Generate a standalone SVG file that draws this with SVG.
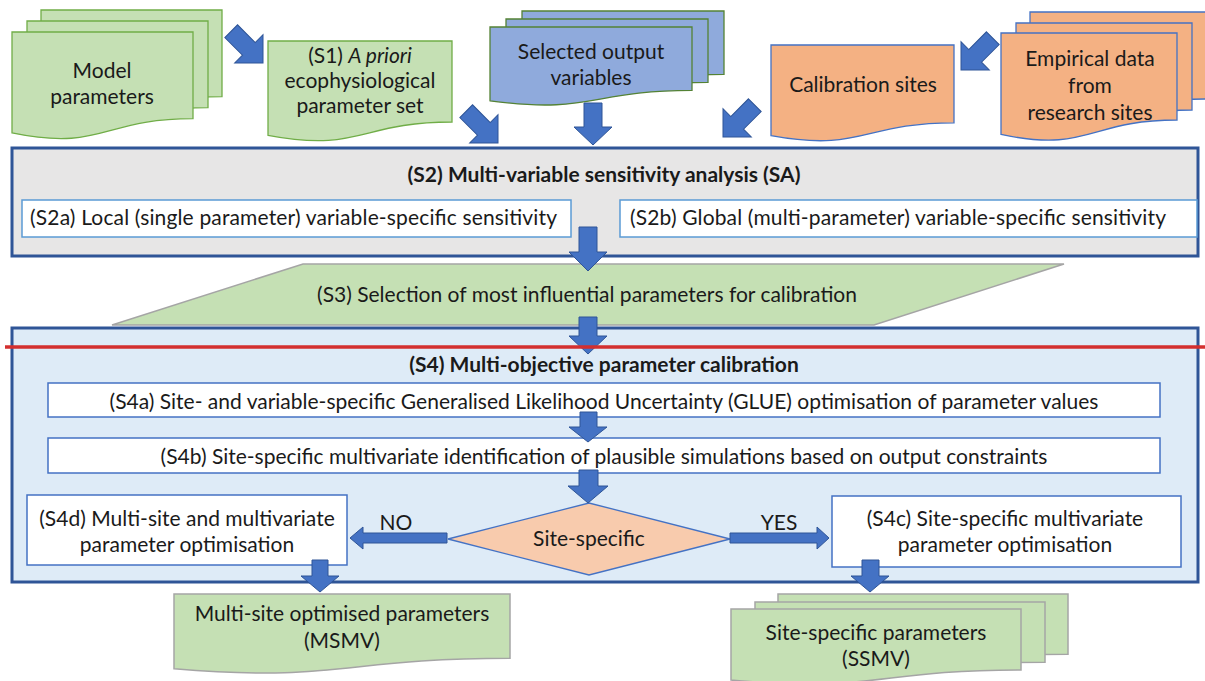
<svg xmlns="http://www.w3.org/2000/svg" width="1205" height="681" viewBox="0 0 1205 681">
<defs>
<style>
.t{font-family:Lato,"Liberation Sans",sans-serif;font-size:21px;fill:#1a1a1a}
.c{text-anchor:middle}
.b{font-weight:bold}
.arr{fill:#4472C4;stroke:#2F5597;stroke-width:1}
.grn{fill:#C5E0B4;stroke:#70AD47;stroke-width:1.3}
.grng{fill:#C5E0B4;stroke:#A5A5A5;stroke-width:1.5}
.blu{fill:#8FAADC;stroke:#548235;stroke-width:1.3}
.org{fill:#F4B183;stroke:#4472C4;stroke-width:1.3}
.box{fill:#FFFFFF;stroke:#4472C4;stroke-width:1.5}
.boxl{fill:#FFFFFF;stroke:#5B9BD5;stroke-width:1.5}
</style>
<path id="diag" d="M-9,-45 H9 V-20 H20 L0,0 L-20,-20 H-9 Z"/>
</defs>
<rect width="1205" height="681" fill="#FFFFFF"/>

<g id="model-parameters">
<path class="grn" d="M41,10 H222 V96.6 C131.5,96.6 131.5,129.6 41,110.9 Z"/>
<path class="grn" d="M27,21 H208 V107.6 C117.5,107.6 117.5,140.6 27,121.9 Z"/>
<path class="grn" d="M12,32 H193 V118.6 C102.5,118.6 102.5,151.6 12,132.9 Z"/>
<text class="t c" x="102" y="78">Model</text>
<text class="t c" x="102" y="104">parameters</text>
</g>

<g id="s1">
<path class="grn" d="M268,41 H452 V122 C360,122 360,152.8 268,135.3 Z"/>
<text class="t c" x="360" y="63">(S1) <tspan font-style="italic">A priori</tspan></text>
<text class="t c" x="360" y="88">ecophysiological</text>
<text class="t c" x="360" y="113">parameter set</text>
</g>

<g id="selected-output">
<path class="blu" d="M522,11 H724 V74.4 C623,74.4 623,98.5 522,84.8 Z"/>
<path class="blu" d="M506,19 H708 V82.4 C607,82.4 607,106.5 506,92.8 Z"/>
<path class="blu" d="M490,27 H692 V90.4 C591,90.4 591,114.5 490,100.8 Z"/>
<text class="t c" x="591" y="59">Selected output</text>
<text class="t c" x="591" y="85">variables</text>
</g>

<g id="calibration-sites">
<path class="org" d="M771,45 H954 V122.8 C862.5,122.8 862.5,152.4 771,135.6 Z"/>
<text class="t c" x="863" y="92">Calibration sites</text>
</g>

<g id="empirical-data">
<path class="org" d="M1030,12 H1206 V99 C1118,99 1118,132.1 1030,113.4 Z"/>
<path class="org" d="M1016,23 H1192 V110 C1104,110 1104,143.1 1016,124.4 Z"/>
<path class="org" d="M1001,33 H1177 V120 C1089,120 1089,153.1 1001,134.4 Z"/>
<text class="t c" x="1090" y="66">Empirical data</text>
<text class="t c" x="1090" y="93">from</text>
<text class="t c" x="1090" y="120">research sites</text>
</g>

<g id="s2">
<rect x="12" y="148" width="1186" height="108" fill="#E7E6E6" stroke="#2F5597" stroke-width="3"/>
<text class="t c b" x="604" y="182">(S2) Multi-variable sensitivity analysis (SA)</text>
</g>

<g id="s2a">
<rect class="boxl" x="22" y="200" width="549" height="37"/>
<text class="t" x="30" y="225" textLength="527">(S2a) Local (single parameter) variable-specific sensitivity</text>
</g>

<g id="s2b">
<rect class="boxl" x="620" y="200" width="577" height="37"/>
<text class="t" x="630" y="225" textLength="536">(S2b) Global (multi-parameter) variable-specific sensitivity</text>
</g>

<g id="s3">
<path class="grng" d="M303,264 L1064,264 L874,325 L112,325 Z"/>
<text class="t c" x="587" y="302">(S3) Selection of most influential parameters for calibration</text>
</g>

<g id="s4">
<rect x="12" y="328" width="1186" height="254" fill="#DEEBF7" stroke="#2F5597" stroke-width="3"/>
<text class="t c b" x="604" y="372">(S4) Multi-objective parameter calibration</text>
</g>

<g id="s4a">
<rect class="box" x="48" y="383" width="1112" height="34"/>
<text class="t c" x="604" y="409">(S4a) Site- and variable-specific Generalised Likelihood Uncertainty (GLUE) optimisation of parameter values</text>
</g>

<g id="s4b">
<rect class="box" x="48" y="438" width="1112" height="35"/>
<text class="t c" x="604" y="464">(S4b) Site-specific multivariate identification of plausible simulations based on output constraints</text>
</g>

<g id="decision">
<path d="M448,539 L589,503 L730,539 L589,575 Z" fill="#F8CBAD" stroke="#4472C4" stroke-width="1.3"/>
<text class="t c" x="589" y="546">Site-specific</text>
</g>

<g id="s4d">
<rect class="box" x="27" y="495" width="320" height="70"/>
<text class="t c" x="187" y="526">(S4d) Multi-site and multivariate</text>
<text class="t c" x="187" y="552">parameter optimisation</text>
</g>

<g id="s4c">
<rect class="box" x="832" y="496" width="349" height="71"/>
<text class="t c" x="1005" y="526">(S4c) Site-specific multivariate</text>
<text class="t c" x="1005" y="552">parameter optimisation</text>
</g>

<g id="msmv">
<path class="grng" d="M174,594 H510 V658.2 C342,658.2 342,682.6 174,668.7 Z"/>
<text class="t c" x="342" y="621">Multi-site optimised parameters</text>
<text class="t c" x="342" y="648">(MSMV)</text>
</g>

<g id="ssmv">
<path class="grng" d="M778,594 H1068 V654.2 C923,654.2 923,677.1 778,664.2 Z"/>
<path class="grng" d="M755,602 H1045 V662.2 C900,662.2 900,685.1 755,672.2 Z"/>
<path class="grng" d="M731,609 H1021 V670 C876,670 876,693 731,680 Z"/>
<text class="t c" x="876" y="640">Site-specific parameters</text>
<text class="t c" x="876" y="666">(SSMV)</text>
</g>

<g id="connectors">
<use href="#diag" class="arr" transform="translate(263,63) rotate(-45)"/>
<use href="#diag" class="arr" transform="translate(498,143) rotate(-45)"/>
<use href="#diag" class="arr" transform="translate(723,137) rotate(45)"/>
<use href="#diag" class="arr" transform="translate(961,70) rotate(45)"/>
<path class="arr" d="M584,103 H602 V127 H612 L593,145 L574,127 H584 Z"/>
<path class="arr" d="M579,227 H597 V252 H607 L588,271 L569,252 H579 Z"/>
<path class="arr" d="M579,317 H597 V336 H607 L588,354 L569,336 H579 Z"/>
<path class="arr" d="M580,412 H597 V427 H607 L588,442 L569,427 H580 Z"/>
<path class="arr" d="M579,470 H598 V486 H608 L588,503 L568,486 H579 Z"/>
<path class="arr" d="M447,533 H363 V527 L350,538 L363,549 V543 H447 Z"/>
<path class="arr" d="M730,533 H817 V527 L829,538 L817,549 V543 H730 Z"/>
<path class="arr" d="M312,560 H328 V576 H339 L320,592 L301,576 H312 Z"/>
<path class="arr" d="M862,560 H879 V576 H889 L870,592 L851,576 H862 Z"/>
<text class="t c" x="396" y="530">NO</text>
<text class="t c" x="779" y="530">YES</text>
</g>

<line id="red-line" x1="5" y1="347" x2="1205" y2="347" stroke="#D32F2F" stroke-width="3.5"/>
</svg>
